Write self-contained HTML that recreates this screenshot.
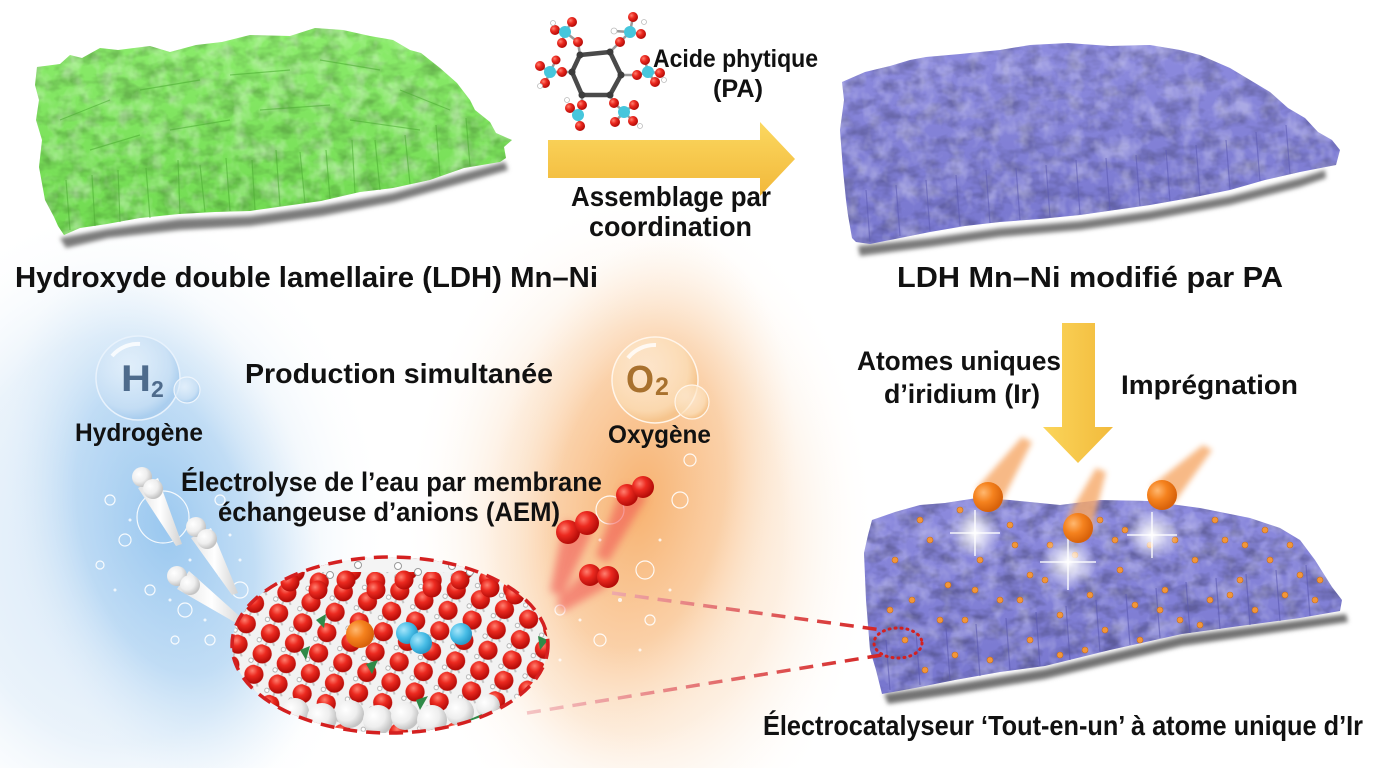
<!DOCTYPE html>
<html><head><meta charset="utf-8"><style>
html,body{margin:0;padding:0;background:#fff;width:1376px;height:768px;overflow:hidden;}
svg{display:block;overflow:hidden;}
text{font-family:"Liberation Sans",Arial,sans-serif;font-weight:bold;fill:#111;}
</style></head><body>
<svg width="1376" height="768" viewBox="0 0 1376 768" xmlns="http://www.w3.org/2000/svg">
<defs>
  <radialGradient id="gBlue" gradientUnits="userSpaceOnUse" cx="165" cy="530" r="270" gradientTransform="translate(165 530) rotate(-15) scale(0.56 1) translate(-165 -530)">
    <stop offset="0" stop-color="#8fc2ee" stop-opacity="0.85"/>
    <stop offset="0.55" stop-color="#a9d0f2" stop-opacity="0.6"/>
    <stop offset="1" stop-color="#dcecfa" stop-opacity="0"/>
  </radialGradient>
  <radialGradient id="gBlue2" gradientUnits="userSpaceOnUse" cx="120" cy="540" r="340" gradientTransform="translate(120 540) scale(0.8 1) translate(-120 -540)">
    <stop offset="0" stop-color="#cfe3f6" stop-opacity="0.9"/>
    <stop offset="0.6" stop-color="#dcebf8" stop-opacity="0.6"/>
    <stop offset="1" stop-color="#ffffff" stop-opacity="0"/>
  </radialGradient>
  <radialGradient id="gOr" gradientUnits="userSpaceOnUse" cx="640" cy="500" r="270" gradientTransform="translate(640 500) rotate(10) scale(0.56 1) translate(-640 -500)">
    <stop offset="0" stop-color="#f6aa62" stop-opacity="0.85"/>
    <stop offset="0.55" stop-color="#f9c08a" stop-opacity="0.6"/>
    <stop offset="1" stop-color="#fde9d4" stop-opacity="0"/>
  </radialGradient>
  <radialGradient id="gOr2" gradientUnits="userSpaceOnUse" cx="640" cy="530" r="340" gradientTransform="translate(640 530) scale(0.7 1) translate(-640 -530)">
    <stop offset="0" stop-color="#fbd8b4" stop-opacity="0.9"/>
    <stop offset="0.6" stop-color="#fce4cc" stop-opacity="0.6"/>
    <stop offset="1" stop-color="#ffffff" stop-opacity="0"/>
  </radialGradient>
  <linearGradient id="yArrH" x1="0" y1="0" x2="0" y2="1">
    <stop offset="0" stop-color="#fbd860"/>
    <stop offset="1" stop-color="#f2b83a"/>
  </linearGradient>
  <linearGradient id="yArrV" x1="0" y1="0" x2="1" y2="0">
    <stop offset="0" stop-color="#fbd55a"/>
    <stop offset="1" stop-color="#f2ba3c"/>
  </linearGradient>
  <linearGradient id="gGreen" x1="0" y1="0" x2="0" y2="1">
    <stop offset="0" stop-color="#8cec6c"/>
    <stop offset="1" stop-color="#70da50"/>
  </linearGradient>
  <linearGradient id="gPurp" x1="0" y1="0" x2="0" y2="1">
    <stop offset="0" stop-color="#8d8bde"/>
    <stop offset="1" stop-color="#7776ce"/>
  </linearGradient>
  <radialGradient id="redball" cx="35%" cy="35%" r="65%">
    <stop offset="0" stop-color="#ff8070"/>
    <stop offset="0.45" stop-color="#ec2a20"/>
    <stop offset="1" stop-color="#b50c08"/>
  </radialGradient>
  <radialGradient id="whiteball" cx="35%" cy="35%" r="65%">
    <stop offset="0" stop-color="#ffffff"/>
    <stop offset="0.6" stop-color="#eeeeee"/>
    <stop offset="1" stop-color="#c4c4c4"/>
  </radialGradient>
  <radialGradient id="orball" cx="35%" cy="35%" r="65%">
    <stop offset="0" stop-color="#ffb870"/>
    <stop offset="0.5" stop-color="#f5821e"/>
    <stop offset="1" stop-color="#d8620a"/>
  </radialGradient>
  <radialGradient id="blball" cx="35%" cy="35%" r="65%">
    <stop offset="0" stop-color="#a6e6fb"/>
    <stop offset="0.6" stop-color="#48bde6"/>
    <stop offset="1" stop-color="#2a9ac8"/>
  </radialGradient>
  <radialGradient id="spark" cx="50%" cy="50%" r="50%">
    <stop offset="0" stop-color="#ffffff" stop-opacity="1"/>
    <stop offset="0.35" stop-color="#ffffff" stop-opacity="0.7"/>
    <stop offset="1" stop-color="#ffffff" stop-opacity="0"/>
  </radialGradient>
  <radialGradient id="bubH" cx="40%" cy="38%" r="60%">
    <stop offset="0" stop-color="#eef6fd" stop-opacity="0.6"/>
    <stop offset="0.8" stop-color="#c6def4" stop-opacity="0.75"/>
    <stop offset="1" stop-color="#a9cdee" stop-opacity="0.9"/>
  </radialGradient>
  <radialGradient id="bubO" cx="40%" cy="38%" r="60%">
    <stop offset="0" stop-color="#fff3e3" stop-opacity="0.6"/>
    <stop offset="0.8" stop-color="#fbdcb4" stop-opacity="0.8"/>
    <stop offset="1" stop-color="#f5c48c" stop-opacity="0.9"/>
  </radialGradient>
  <linearGradient id="rodG" x1="0" y1="0" x2="1" y2="0">
    <stop offset="0" stop-color="#e2e2e2"/>
    <stop offset="0.5" stop-color="#ffffff"/>
    <stop offset="1" stop-color="#d2d2d2"/>
  </linearGradient>
  <linearGradient id="dashU" x1="612" y1="0" x2="885" y2="0" gradientUnits="userSpaceOnUse">
    <stop offset="0" stop-color="#eeaaaa"/>
    <stop offset="1" stop-color="#d42222"/>
  </linearGradient>
  <linearGradient id="dashL" x1="527" y1="0" x2="885" y2="0" gradientUnits="userSpaceOnUse">
    <stop offset="0" stop-color="#f4c4c4"/>
    <stop offset="1" stop-color="#d42222"/>
  </linearGradient>
  <filter id="blur2" x="-20%" y="-20%" width="140%" height="140%"><feGaussianBlur stdDeviation="2"/></filter>
  <filter id="blur3" x="-30%" y="-30%" width="160%" height="160%"><feGaussianBlur stdDeviation="3"/></filter>
  <filter id="blur4" x="-30%" y="-30%" width="160%" height="160%"><feGaussianBlur stdDeviation="4"/></filter>
  <filter id="texD" x="0" y="0" width="100%" height="100%">
    <feTurbulence type="fractalNoise" baseFrequency="0.05 0.08" numOctaves="3" seed="7" result="n"/>
    <feColorMatrix in="n" type="matrix" values="0 0 0 0 0  0 0 0 0 0  0 0 0 0 0  0 0 0 2.4 -0.95" result="a"/>
    <feComposite in="a" in2="SourceGraphic" operator="in"/>
  </filter>
  <filter id="texL" x="0" y="0" width="100%" height="100%">
    <feTurbulence type="fractalNoise" baseFrequency="0.06 0.05" numOctaves="3" seed="21" result="n"/>
    <feColorMatrix in="n" type="matrix" values="0 0 0 0 1  0 0 0 0 1  0 0 0 0 1  0 0 0 2.4 -1.0" result="a"/>
    <feComposite in="a" in2="SourceGraphic" operator="in"/>
  </filter>
  <pattern id="lat" width="26" height="22" patternUnits="userSpaceOnUse" patternTransform="translate(230,560) rotate(22)">
    <rect width="26" height="22" fill="#f2f2f2"/>
    <path d="M13 10 L5 19 M13 10 L21 19 M13 10 L13 22" stroke="#c4c4c4" stroke-width="2"/>
    <circle cx="5" cy="19" r="2.2" fill="#fff" stroke="#aaa" stroke-width="0.8"/>
    <circle cx="13" cy="9" r="9.6" fill="url(#redball)"/>
  </pattern>
  <clipPath id="ellClip"><ellipse cx="390" cy="645" rx="158" ry="88"/></clipPath>
</defs>

<rect width="1376" height="768" fill="#ffffff"/>

<!-- background glows bottom-left (rects within frame) -->
<rect x="0" y="200" width="860" height="568" fill="url(#gBlue2)"/>
<rect x="0" y="240" width="860" height="528" fill="url(#gBlue)"/>
<rect x="300" y="190" width="620" height="578" fill="url(#gOr2)"/>
<rect x="300" y="220" width="620" height="548" fill="url(#gOr)"/>

<!-- ===== Green LDH sheet ===== -->
<g>
  <path d="M60,238 L107,229 L179,219 L250,216 L321,206 L393,193 L464,173 L505,162 L508,170 L466,182 L394,202 L322,216 L250,226 L180,230 L108,238 L66,248 Z" fill="#7c7c7c" filter="url(#blur2)"/>
  <path d="M37,67 L60,64 L70,55 L82,58 L100,48 L118,50 L150,46 L170,52 L196,45 L222,42 L250,35 L290,36 L315,28 L343,30 L370,36 L393,40 L410,50 L421,53 L440,68 L457,83 L470,100 L475,110 L490,122 L496,133 L512,140 L504,147 L506,158 L500,162 L464,168 L430,180 L393,188 L360,192 L321,201 L285,206 L250,211 L215,212 L179,214 L140,218 L107,224 L80,228 L64,235 L58,226 L54,217 L45,200 L39,167 L42,140 L36,120 L39,100 L35,85 Z" fill="url(#gGreen)"/>
  <path d="M37,67 L60,64 L70,55 L82,58 L100,48 L118,50 L150,46 L170,52 L196,45 L222,42 L250,35 L290,36 L315,28 L343,30 L370,36 L393,40 L410,50 L421,53 L440,68 L457,83 L470,100 L475,110 L490,122 L496,133 L512,140 L504,147 L506,158 L500,162 L464,168 L430,180 L393,188 L360,192 L321,201 L285,206 L250,211 L215,212 L179,214 L140,218 L107,224 L80,228 L64,235 L58,226 L54,217 L45,200 L39,167 L42,140 L36,120 L39,100 L35,85 Z" fill="#000" filter="url(#texD)" opacity="0.2"/>
  <path d="M37,67 L60,64 L70,55 L82,58 L100,48 L118,50 L150,46 L170,52 L196,45 L222,42 L250,35 L290,36 L315,28 L343,30 L370,36 L393,40 L410,50 L421,53 L440,68 L457,83 L470,100 L475,110 L490,122 L496,133 L512,140 L504,147 L506,158 L500,162 L464,168 L430,180 L393,188 L360,192 L321,201 L285,206 L250,211 L215,212 L179,214 L140,218 L107,224 L80,228 L64,235 L58,226 L54,217 L45,200 L39,167 L42,140 L36,120 L39,100 L35,85 Z" fill="#fff" filter="url(#texL)" opacity="0.35"/>
  <g stroke="#4fb035" stroke-width="1.2" opacity="0.6" fill="none">
    <path d="M70,230 L66,180 M95,226 L92,175 M120,222 L118,170 M150,218 L146,168 M180,214 L178,160 M205,212 L200,165 M230,211 L226,158 M255,210 L252,160 M280,206 L276,150 M305,203 L300,152 M330,199 L326,150 M355,193 L352,140 M380,190 L375,140 M410,184 L405,135 M440,176 L436,125 M470,166 L466,118"/>
    <path d="M60,120 L110,100 M140,90 L200,80 M230,75 L290,70 M320,60 L380,70 M400,90 L450,110 M90,150 L140,135 M170,130 L230,120 M260,110 L330,105 M350,120 L420,130"/>
  </g>
</g>

<!-- ===== Phytic acid molecule ===== -->
<g>
  <g stroke="#9a9a9a" stroke-width="2.5">
    <line x1="580" y1="55" x2="578" y2="42"/><line x1="610" y1="52" x2="620" y2="42"/>
    <line x1="572" y1="72" x2="562" y2="72"/><line x1="621" y1="75" x2="637" y2="75"/>
    <line x1="582" y1="95" x2="582" y2="105"/><line x1="610" y1="95" x2="614" y2="103"/>
    <line x1="565" y1="32" x2="555" y2="30"/><line x1="565" y1="32" x2="572" y2="22"/><line x1="565" y1="32" x2="562" y2="43"/><line x1="565" y1="32" x2="578" y2="42"/>
    <line x1="630" y1="32" x2="633" y2="17"/><line x1="630" y1="32" x2="641" y2="34"/><line x1="630" y1="32" x2="614" y2="31"/><line x1="630" y1="32" x2="620" y2="42"/>
    <line x1="550" y1="72" x2="540" y2="66"/><line x1="550" y1="72" x2="545" y2="83"/><line x1="550" y1="72" x2="556" y2="60"/><line x1="550" y1="72" x2="562" y2="72"/>
    <line x1="648" y1="72" x2="660" y2="73"/><line x1="648" y1="72" x2="645" y2="60"/><line x1="648" y1="72" x2="655" y2="82"/><line x1="648" y1="72" x2="637" y2="75"/>
    <line x1="578" y1="115" x2="570" y2="108"/><line x1="578" y1="115" x2="580" y2="126"/><line x1="578" y1="115" x2="582" y2="105"/>
    <line x1="624" y1="112" x2="633" y2="121"/><line x1="624" y1="112" x2="615" y2="122"/><line x1="624" y1="112" x2="614" y2="103"/><line x1="624" y1="112" x2="634" y2="105"/>
  </g>
  <polygon points="580,55 610,52 621,75 610,95 582,95 572,72" fill="none" stroke="#4a4a4a" stroke-width="4.5" stroke-linejoin="round"/>
  <g fill="#3c3c3c">
    <circle cx="580" cy="55" r="3.5"/><circle cx="610" cy="52" r="3.5"/><circle cx="621" cy="75" r="3.5"/>
    <circle cx="610" cy="95" r="3.5"/><circle cx="582" cy="95" r="3.5"/><circle cx="572" cy="72" r="3.5"/>
  </g>
  <g fill="url(#redball)">
    <circle cx="578" cy="42" r="5"/><circle cx="620" cy="42" r="5"/><circle cx="562" cy="72" r="5"/><circle cx="637" cy="75" r="5"/><circle cx="582" cy="105" r="5"/><circle cx="614" cy="103" r="5"/>
    <circle cx="555" cy="30" r="5"/><circle cx="572" cy="22" r="5"/><circle cx="562" cy="43" r="5"/>
    <circle cx="633" cy="17" r="5"/><circle cx="641" cy="34" r="5"/>
    <circle cx="540" cy="66" r="5"/><circle cx="545" cy="83" r="5"/><circle cx="556" cy="60" r="4.5"/>
    <circle cx="660" cy="73" r="5"/><circle cx="645" cy="60" r="5"/><circle cx="655" cy="82" r="5"/>
    <circle cx="570" cy="108" r="5"/><circle cx="580" cy="126" r="5"/>
    <circle cx="633" cy="121" r="5"/><circle cx="615" cy="122" r="5"/><circle cx="634" cy="105" r="5"/>
  </g>
  <g fill="#46c6dc">
    <circle cx="565" cy="32" r="6"/><circle cx="630" cy="32" r="6"/><circle cx="550" cy="72" r="6"/>
    <circle cx="648" cy="72" r="6"/><circle cx="578" cy="115" r="6"/><circle cx="624" cy="112" r="6"/>
  </g>
  <g fill="#fff" stroke="#bbb" stroke-width="0.8">
    <circle cx="614" cy="31" r="3"/><circle cx="553" cy="23" r="2.5"/><circle cx="540" cy="86" r="2.5"/><circle cx="664" cy="80" r="2.5"/><circle cx="567" cy="100" r="2.5"/><circle cx="640" cy="126" r="2.5"/><circle cx="644" cy="22" r="2.5"/>
  </g>
</g>

<!-- horizontal arrow -->
<path d="M548,140 L760,140 L760,122 L795,159 L760,196 L760,178 L548,178 Z" fill="url(#yArrH)"/>

<!-- ===== Purple top sheet ===== -->
<g>
  <path d="M858,246 L930,238 L1000,228 L1080,221 L1150,211 L1230,196 L1300,178 L1325,170 L1326,178 L1300,187 L1230,205 L1150,220 L1080,230 L1000,237 L930,247 L860,256 Z" fill="#7a7a7a" filter="url(#blur2)"/>
  <path d="M842,82 L865,72 L890,66 L910,60 L926,57 L960,54 L1000,50 L1030,45 L1068,43 L1110,46 L1150,45 L1180,50 L1200,55 L1230,68 L1250,80 L1270,92 L1288,108 L1305,118 L1318,132 L1332,140 L1340,150 L1336,165 L1300,172 L1265,180 L1230,190 L1190,198 L1150,205 L1115,210 L1080,215 L1040,219 L1000,222 L965,226 L930,232 L900,238 L870,244 L856,242 L852,238 L848,215 L846,200 L843,170 L840,130 L844,100 Z" fill="url(#gPurp)"/>
  <path d="M842,82 L865,72 L890,66 L910,60 L926,57 L960,54 L1000,50 L1030,45 L1068,43 L1110,46 L1150,45 L1180,50 L1200,55 L1230,68 L1250,80 L1270,92 L1288,108 L1305,118 L1318,132 L1332,140 L1340,150 L1336,165 L1300,172 L1265,180 L1230,190 L1190,198 L1150,205 L1115,210 L1080,215 L1040,219 L1000,222 L965,226 L930,232 L900,238 L870,244 L856,242 L852,238 L848,215 L846,200 L843,170 L840,130 L844,100 Z" fill="#000" filter="url(#texD)" opacity="0.2"/>
  <path d="M842,82 L865,72 L890,66 L910,60 L926,57 L960,54 L1000,50 L1030,45 L1068,43 L1110,46 L1150,45 L1180,50 L1200,55 L1230,68 L1250,80 L1270,92 L1288,108 L1305,118 L1318,132 L1332,140 L1340,150 L1336,165 L1300,172 L1265,180 L1230,190 L1190,198 L1150,205 L1115,210 L1080,215 L1040,219 L1000,222 L965,226 L930,232 L900,238 L870,244 L856,242 L852,238 L848,215 L846,200 L843,170 L840,130 L844,100 Z" fill="#fff" filter="url(#texL)" opacity="0.3"/>
  <g stroke="#5e5cb4" stroke-width="1.2" opacity="0.6" fill="none">
    <path d="M870,242 L866,190 M900,236 L896,185 M930,231 L926,180 M960,226 L956,175 M990,223 L986,170 M1020,220 L1016,168 M1050,217 L1046,165 M1080,214 L1076,160 M1110,210 L1106,158 M1140,206 L1136,155 M1170,201 L1166,150 M1200,196 L1196,145 M1230,189 L1226,140 M1260,181 L1256,132 M1290,174 L1286,125"/>
  </g>
</g>

<!-- top labels -->
<text x="15" y="287" font-size="29" textLength="583" lengthAdjust="spacingAndGlyphs">Hydroxyde double lamellaire (LDH) Mn–Ni</text>
<text x="897" y="287" font-size="29" textLength="386" lengthAdjust="spacingAndGlyphs">LDH Mn–Ni modifié par PA</text>
<text x="653" y="67" font-size="25" textLength="165" lengthAdjust="spacingAndGlyphs">Acide phytique</text>
<text x="713" y="97" font-size="25" textLength="50" lengthAdjust="spacingAndGlyphs">(PA)</text>
<text x="571" y="206" font-size="28" textLength="200" lengthAdjust="spacingAndGlyphs">Assemblage par</text>
<text x="589" y="236" font-size="28" textLength="163" lengthAdjust="spacingAndGlyphs">coordination</text>

<!-- vertical arrow -->
<path d="M1062,323 L1095,323 L1095,427 L1113,427 L1078,463 L1043,427 L1062,427 Z" fill="url(#yArrV)"/>
<text x="857" y="370" font-size="27" textLength="204" lengthAdjust="spacingAndGlyphs">Atomes uniques</text>
<text x="884" y="403" font-size="27" textLength="156" lengthAdjust="spacingAndGlyphs">d’iridium (Ir)</text>
<text x="1121" y="394" font-size="27" textLength="177" lengthAdjust="spacingAndGlyphs">Imprégnation</text>

<!-- ===== Bottom purple sheet ===== -->
<g>
  <path d="M884,694 L955,684 L1045,669 L1182,636 L1346,614 L1348,622 L1182,646 L1045,679 L955,694 L888,704 Z" fill="#737373" filter="url(#blur2)"/>
  <path d="M864,553 L868,535 L872,520 L895,512 L920,505 L945,503 L977,498 L1010,500 L1060,505 L1100,500 L1148,501 L1200,508 L1250,518 L1280,528 L1300,540 L1315,560 L1332,587 L1342,600 L1340,611 L1300,618 L1240,626 L1182,634 L1110,650 L1045,666 L1000,672 L955,680 L915,688 L882,694 L876,670 L870,650 L866,600 Z" fill="url(#gPurp)"/>
  <path d="M864,553 L868,535 L872,520 L895,512 L920,505 L945,503 L977,498 L1010,500 L1060,505 L1100,500 L1148,501 L1200,508 L1250,518 L1280,528 L1300,540 L1315,560 L1332,587 L1342,600 L1340,611 L1300,618 L1240,626 L1182,634 L1110,650 L1045,666 L1000,672 L955,680 L915,688 L882,694 L876,670 L870,650 L866,600 Z" fill="#000" filter="url(#texD)" opacity="0.25"/>
  <path d="M864,553 L868,535 L872,520 L895,512 L920,505 L945,503 L977,498 L1010,500 L1060,505 L1100,500 L1148,501 L1200,508 L1250,518 L1280,528 L1300,540 L1315,560 L1332,587 L1342,600 L1340,611 L1300,618 L1240,626 L1182,634 L1110,650 L1045,666 L1000,672 L955,680 L915,688 L882,694 L876,670 L870,650 L866,600 Z" fill="#fff" filter="url(#texL)" opacity="0.28"/>
  <g stroke="#5a58b0" stroke-width="1.2" opacity="0.6" fill="none">
    <path d="M890,690 L886,640 M920,685 L916,632 M950,680 L946,628 M980,676 L976,624 M1010,670 L1006,618 M1040,666 L1036,612 M1070,660 L1066,606 M1100,652 L1096,600 M1130,645 L1126,594 M1160,638 L1156,588 M1190,633 L1186,582 M1220,629 L1216,578 M1250,625 L1246,574 M1280,621 L1276,570 M1310,616 L1306,565"/>
  </g>
  <g fill="#f2963a" stroke="#c86f1c" stroke-width="0.6">
    <circle cx="895" cy="560" r="3"/><circle cx="912" cy="600" r="3"/><circle cx="930" cy="540" r="3"/><circle cx="948" cy="585" r="3"/>
    <circle cx="965" cy="620" r="3"/><circle cx="980" cy="560" r="3"/><circle cx="1000" cy="600" r="3"/><circle cx="1015" cy="545" r="3"/>
    <circle cx="1030" cy="640" r="3"/><circle cx="1045" cy="580" r="3"/><circle cx="1060" cy="615" r="3"/><circle cx="1075" cy="555" r="3"/>
    <circle cx="1090" cy="595" r="3"/><circle cx="1105" cy="630" r="3"/><circle cx="1120" cy="570" r="3"/><circle cx="1135" cy="605" r="3"/>
    <circle cx="1150" cy="545" r="3"/><circle cx="1165" cy="590" r="3"/><circle cx="1180" cy="620" r="3"/><circle cx="1195" cy="560" r="3"/>
    <circle cx="1210" cy="600" r="3"/><circle cx="1225" cy="540" r="3"/><circle cx="1240" cy="580" r="3"/><circle cx="1255" cy="610" r="3"/>
    <circle cx="1270" cy="560" r="3"/><circle cx="1285" cy="595" r="3"/><circle cx="1300" cy="575" r="3"/><circle cx="1315" cy="600" r="3"/>
    <circle cx="905" cy="640" r="3"/><circle cx="925" cy="670" r="3"/><circle cx="955" cy="655" r="3"/><circle cx="990" cy="660" r="3"/>
    <circle cx="1020" cy="600" r="3"/><circle cx="1050" cy="545" r="3"/><circle cx="1085" cy="650" r="3"/><circle cx="1115" cy="540" r="3"/>
    <circle cx="1140" cy="640" r="3"/><circle cx="1175" cy="540" r="3"/><circle cx="1200" cy="625" r="3"/><circle cx="1230" cy="595" r="3"/>
    <circle cx="1265" cy="530" r="3"/><circle cx="1320" cy="580" r="3"/><circle cx="890" cy="610" r="3"/><circle cx="940" cy="620" r="3"/>
    <circle cx="1010" cy="525" r="3"/><circle cx="1100" cy="520" r="3"/><circle cx="1245" cy="545" r="3"/><circle cx="975" cy="590" r="3"/>
    <circle cx="1160" cy="610" r="3"/><circle cx="1060" cy="655" r="3"/><circle cx="920" cy="520" r="3"/><circle cx="960" cy="510" r="3"/>
    <circle cx="1290" cy="545" r="3"/><circle cx="1030" cy="575" r="3"/><circle cx="1125" cy="530" r="3"/><circle cx="1215" cy="520" r="3"/>
  </g>
  <g>
    <circle cx="975" cy="533" r="26" fill="url(#spark)"/>
    <circle cx="1068" cy="562" r="28" fill="url(#spark)"/>
    <circle cx="1152" cy="535" r="26" fill="url(#spark)"/>
    <g stroke="#fff" stroke-width="1.5" opacity="0.9">
      <line x1="950" y1="533" x2="1000" y2="533"/><line x1="975" y1="510" x2="975" y2="556"/>
      <line x1="1040" y1="562" x2="1096" y2="562"/><line x1="1068" y1="536" x2="1068" y2="590"/>
      <line x1="1127" y1="535" x2="1177" y2="535"/><line x1="1152" y1="512" x2="1152" y2="558"/>
    </g>
  </g>
  <g filter="url(#blur3)" opacity="0.8">
    <path d="M976,489 L1000,505 L1032,442 L1022,437 Z" fill="#f6a868"/>
    <path d="M1066,520 L1090,536 L1106,472 L1096,468 Z" fill="#f6a868"/>
    <path d="M1150,487 L1174,503 L1212,450 L1203,445 Z" fill="#f6a868"/>
  </g>
  <circle cx="988" cy="497" r="15" fill="url(#orball)"/>
  <circle cx="1078" cy="528" r="15" fill="url(#orball)"/>
  <circle cx="1162" cy="495" r="15" fill="url(#orball)"/>
</g>

<!-- ===== Bottom-left AEM scene ===== -->
<g>
  <circle cx="138" cy="378" r="42" fill="url(#bubH)" stroke="#e8f2fc" stroke-width="1.5"/>
  <path d="M112,356 A34,34 0 0 1 140,344" stroke="#ffffff" stroke-width="4" fill="none" opacity="0.8"/>
  <circle cx="187" cy="390" r="13" fill="url(#bubH)" stroke="#eef5fc" stroke-width="1.2"/>
  <text x="121" y="391" font-size="37" style="fill:#4e6b8c" textLength="30" lengthAdjust="spacingAndGlyphs">H</text>
  <text x="151" y="397" font-size="23" style="fill:#4e6b8c">2</text>
</g>
<g>
  <circle cx="655" cy="380" r="43" fill="url(#bubO)" stroke="#fff5ea" stroke-width="1.5"/>
  <path d="M628,358 A34,34 0 0 1 656,345" stroke="#ffffff" stroke-width="4" fill="none" opacity="0.8"/>
  <circle cx="692" cy="402" r="17" fill="url(#bubO)" stroke="#fff5ea" stroke-width="1.2"/>
  <text x="626" y="392" font-size="38" style="fill:#a8712e" textLength="28" lengthAdjust="spacingAndGlyphs">O</text>
  <text x="655" y="395" font-size="25" style="fill:#a8712e">2</text>
</g>
<text x="245" y="383" font-size="28" textLength="308" lengthAdjust="spacingAndGlyphs">Production simultanée</text>
<text x="75" y="441" font-size="25" textLength="128" lengthAdjust="spacingAndGlyphs">Hydrogène</text>
<text x="608" y="443" font-size="25" textLength="103" lengthAdjust="spacingAndGlyphs">Oxygène</text>

<g fill="none" stroke="#ffffff" stroke-width="1.2" opacity="0.9">
  <circle cx="163" cy="517" r="26"/><circle cx="110" cy="500" r="5"/><circle cx="125" cy="540" r="6"/><circle cx="100" cy="565" r="4"/>
  <circle cx="185" cy="610" r="7"/><circle cx="210" cy="640" r="5"/><circle cx="240" cy="590" r="8"/><circle cx="175" cy="640" r="4"/>
  <circle cx="150" cy="590" r="5"/><circle cx="220" cy="500" r="5"/>
  <circle cx="610" cy="510" r="14"/><circle cx="680" cy="500" r="8"/><circle cx="645" cy="570" r="9"/><circle cx="600" cy="640" r="6"/>
  <circle cx="690" cy="460" r="6"/><circle cx="560" cy="610" r="5"/><circle cx="650" cy="620" r="5"/>
</g>
<g fill="#ffffff" opacity="0.8">
  <circle cx="130" cy="520" r="1.5"/><circle cx="190" cy="560" r="1.5"/><circle cx="220" cy="575" r="2"/><circle cx="170" cy="600" r="1.5"/>
  <circle cx="205" cy="620" r="1.5"/><circle cx="240" cy="560" r="1.5"/><circle cx="115" cy="590" r="1.5"/><circle cx="230" cy="535" r="1.5"/>
  <circle cx="600" cy="540" r="1.5"/><circle cx="620" cy="600" r="2"/><circle cx="660" cy="540" r="1.5"/><circle cx="580" cy="620" r="1.5"/>
  <circle cx="640" cy="650" r="1.5"/><circle cx="670" cy="590" r="1.5"/><circle cx="560" cy="660" r="1.5"/>
</g>

<g>
  <path d="M138,488 L158,478 L182,544 L176,546 Z" fill="url(#rodG)"/>
  <circle cx="142" cy="477" r="10" fill="url(#whiteball)"/><circle cx="153" cy="489" r="10" fill="url(#whiteball)"/>
  <path d="M191,538 L211,528 L238,593 L232,595 Z" fill="url(#rodG)"/>
  <circle cx="196" cy="527" r="10" fill="url(#whiteball)"/><circle cx="207" cy="539" r="10" fill="url(#whiteball)"/>
  <path d="M177,589 L189,571 L246,622 L243,627 Z" fill="url(#rodG)"/>
  <circle cx="177" cy="576" r="10" fill="url(#whiteball)"/><circle cx="190" cy="585" r="10" fill="url(#whiteball)"/>
</g>

<g filter="url(#blur4)" opacity="0.55">
  <path d="M623,485 L647,496 L608,562 L596,556 Z" fill="#f05050"/>
  <path d="M565,520 L592,532 L562,597 L550,591 Z" fill="#f05050"/>
  <path d="M589,567 L608,586 L563,612 L556,602 Z" fill="#f05050"/>
</g>
<g fill="url(#redball)">
  <circle cx="627" cy="495" r="11"/><circle cx="643" cy="487" r="11"/>
  <circle cx="568" cy="532" r="12"/><circle cx="587" cy="523" r="12"/>
  <circle cx="590" cy="575" r="11"/><circle cx="608" cy="577" r="11"/>
</g>

<text x="181" y="491" font-size="27" textLength="421" lengthAdjust="spacingAndGlyphs">Électrolyse de l’eau par membrane</text>
<text x="218" y="521" font-size="27" textLength="342" lengthAdjust="spacingAndGlyphs">échangeuse d’anions (AEM)</text>

<line x1="612" y1="593" x2="882" y2="630" stroke="url(#dashU)" stroke-width="3.5" stroke-dasharray="14 9"/>
<line x1="527" y1="713" x2="882" y2="655" stroke="url(#dashL)" stroke-width="3.5" stroke-dasharray="14 9"/>
<ellipse cx="898" cy="643" rx="24" ry="15" fill="none" stroke="#d42020" stroke-width="3" stroke-dasharray="1 5" stroke-linecap="round"/>

<g clip-path="url(#ellClip)">
  <rect x="225" y="550" width="340" height="190" fill="url(#lat)"/>
  <rect x="225" y="550" width="340" height="22" fill="#f4f4f4"/>
  <g fill="url(#redball)">
    <circle cx="290" cy="582" r="9.5"/><circle cx="318" cy="590" r="9.5"/><circle cx="346" cy="580" r="9.5"/><circle cx="376" cy="590" r="9.5"/>
    <circle cx="404" cy="580" r="9.5"/><circle cx="432" cy="588" r="9.5"/><circle cx="460" cy="580" r="9.5"/><circle cx="490" cy="588" r="9.5"/><circle cx="515" cy="595" r="9.5"/>
  </g>
  <g fill="#fff" stroke="#999" stroke-width="1">
    <circle cx="300" cy="568" r="3.5"/><circle cx="330" cy="575" r="3.5"/><circle cx="358" cy="565" r="3.5"/><circle cx="398" cy="566" r="3.5"/>
    <circle cx="418" cy="572" r="3.5"/><circle cx="452" cy="566" r="3.5"/><circle cx="470" cy="572" r="3.5"/><circle cx="500" cy="575" r="3.5"/>
  </g>
  <g fill="url(#whiteball)">
    <circle cx="295" cy="712" r="14"/><circle cx="322" cy="718" r="15"/><circle cx="350" cy="714" r="14"/><circle cx="378" cy="720" r="15"/>
    <circle cx="405" cy="716" r="14"/><circle cx="432" cy="720" r="15"/><circle cx="460" cy="712" r="14"/><circle cx="488" cy="706" r="12"/>
  </g>
  <g fill="#2f8a48">
    <polygon points="316,620 326,614 324,628"/><polygon points="366,664 378,660 372,674"/><polygon points="416,700 428,696 420,710"/>
    <polygon points="538,636 548,640 540,650"/><polygon points="468,720 482,714 476,728"/><polygon points="300,650 310,646 306,660"/>
  </g>
  <circle cx="360" cy="634" r="14" fill="url(#orball)"/>
  <circle cx="407" cy="633" r="11" fill="url(#blball)"/>
  <circle cx="421" cy="643" r="11" fill="url(#blball)"/>
  <circle cx="461" cy="634" r="11" fill="url(#blball)"/>
</g>
<ellipse cx="390" cy="645" rx="158" ry="88" fill="none" stroke="#d42020" stroke-width="3.5" stroke-dasharray="14 9"/>

<text x="763" y="735" font-size="28" textLength="600" lengthAdjust="spacingAndGlyphs">Électrocatalyseur ‘Tout-en-un’ à atome unique d’Ir</text>
</svg>
</body></html>
